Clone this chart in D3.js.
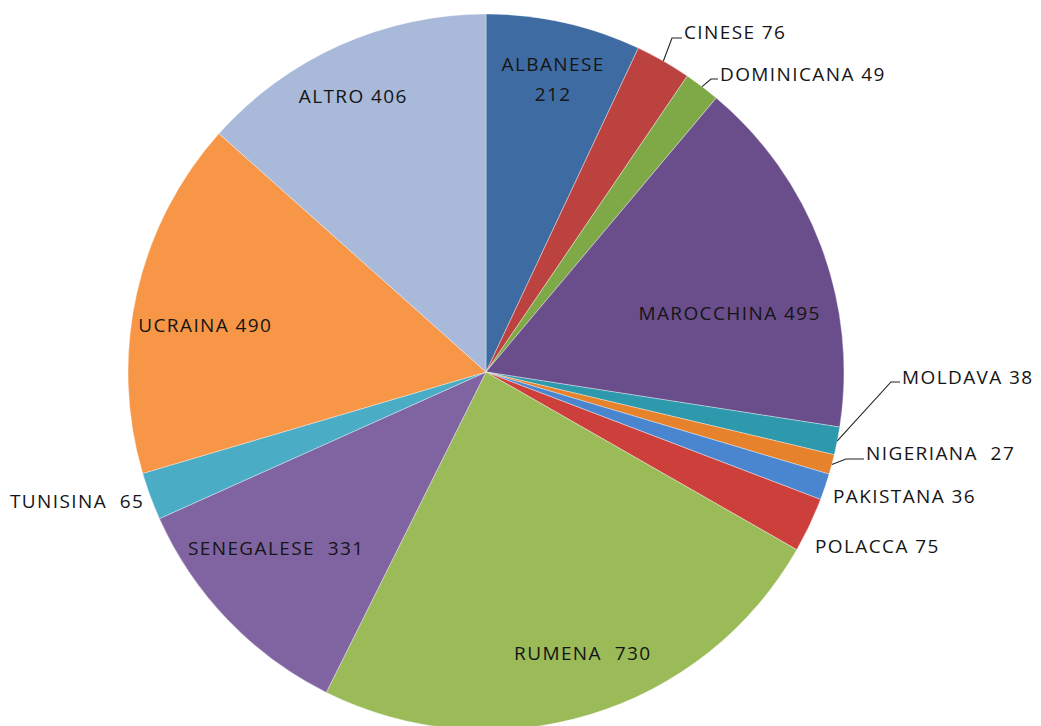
<!DOCTYPE html>
<html>
<head>
<meta charset="utf-8">
<script src="https://cdn.jsdelivr.net/npm/d3@7/dist/d3.min.js"></script>
<style>
  html, body { margin: 0; padding: 0; background: #fff; }
  svg text { font-family: "Open Sans", Lato, sans-serif; fill: #151515; white-space: pre; letter-spacing: 1.4px; }
</style>
</head>
<body>
<svg id="chart" width="1041" height="726"></svg>
<script>
// Nationalities and counts
const categories = ["ALBANESE", "CINESE", "DOMINICANA", "MAROCCHINA", "MOLDAVA", "NIGERIANA",
  "PAKISTANA", "POLACCA", "RUMENA", "SENEGALESE", "TUNISINA", "UCRAINA", "ALTRO"];
const values = [212, 76, 49, 495, 38, 27, 36, 75, 730, 331, 65, 490, 406];
const labelTexts = ["ALBANESE\n212", "CINESE 76", "DOMINICANA 49", "MAROCCHINA 495", "MOLDAVA 38",
  "NIGERIANA  27", "PAKISTANA 36", "POLACCA 75", "RUMENA  730", "SENEGALESE  331",
  "TUNISINA  65", "UCRAINA 490", "ALTRO 406"];
const sliceColors = ["#3f6ba3", "#bb423e", "#7fa946", "#6a4e8c", "#2e98ad", "#e6812c",
  "#4a86cf", "#cc3f3b", "#9bbb59", "#8064a2", "#4bacc6", "#f79646", "#a8b9d9"];

// Label placement: polar offset in units of the radius (r, angle in degrees clockwise from top),
// or a fixed anchor with an optional leader line for the small outer slices.
const labelLayout = {
  ALBANESE:   { r: 0.84, a: 12.9, anchor: "middle" },
  MAROCCHINA: { r: 0.70, a: 76.4, anchor: "middle" },
  RUMENA:     { r: 0.83, a: 161.0, anchor: "middle" },
  SENEGALESE: { r: 0.765, a: 230.0, anchor: "middle" },
  UCRAINA:    { r: 0.795, a: 279.5, anchor: "middle" },
  ALTRO:      { r: 0.855, a: 334.3, anchor: "middle" },
  CINESE:     { x: 684, y: 32, anchor: "start", leader: [[672, 38], [682, 38]] },
  DOMINICANA: { x: 720, y: 74, anchor: "start", leader: [[711, 79], [718, 79]] },
  MOLDAVA:    { x: 902, y: 377, anchor: "start", leader: [[891, 382], [900, 382]] },
  NIGERIANA:  { x: 866, y: 453, anchor: "start", leader: [[846, 459], [864, 459]] },
  PAKISTANA:  { x: 833, y: 496, anchor: "start" },
  POLACCA:    { x: 815, y: 546, anchor: "start" },
  TUNISINA:   { x: 10, y: 501, anchor: "start" }
};

const svg = d3.select("#chart");
const cx = 486, cy = 372, R = 358;
const g = svg.append("g").attr("transform", `translate(${cx},${cy})`);

const data = categories.map((c, i) => ({ name: c, value: values[i], color: sliceColors[i], label: labelTexts[i] }));
const pie = d3.pie().value(d => d.value).sort(null);
const arc = d3.arc().innerRadius(0).outerRadius(R);
const arcs = pie(data);

g.selectAll("path.slice")
  .data(arcs)
  .join("path")
  .attr("class", "slice")
  .attr("d", arc)
  .attr("fill", d => d.data.color)
  .attr("stroke", "rgba(255,255,255,0.45)")
  .attr("stroke-width", 0.8);

const fontSize = 19;
const labels = svg.append("g");

arcs.forEach(d => {
  const L = labelLayout[d.data.name];
  let x, y;
  if (L.r !== undefined) {
    const ang = L.a * Math.PI / 180;
    x = cx + L.r * R * Math.sin(ang);
    y = cy - L.r * R * Math.cos(ang);
  } else {
    x = L.x; y = L.y;
    if (L.leader) {
      const mid = (d.startAngle + d.endAngle) / 2;
      const ex = cx + R * Math.sin(mid), ey = cy - R * Math.cos(mid);
      const pts = [[ex, ey]].concat(L.leader);
      labels.append("path")
        .attr("d", d3.line()(pts))
        .attr("fill", "none")
        .attr("stroke", "#222")
        .attr("stroke-width", 1.1);
    }
  }
  const lines = d.data.label.split("\n");
  const lh = 30;
  const t = labels.append("text")
    .attr("text-anchor", L.anchor)
    .attr("font-size", fontSize);
  lines.forEach((ln, i) => {
    t.append("tspan")
      .attr("x", x)
      .attr("y", y + (i - (lines.length - 1) / 2) * lh)
      .attr("dy", "0.35em")
      .text(ln);
  });
});
</script>
</body>
</html>
